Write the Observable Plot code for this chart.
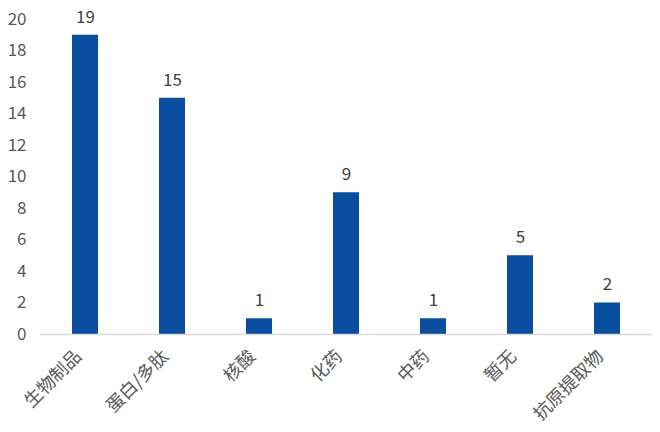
<!DOCTYPE html>
<html><head><meta charset="utf-8">
<script src="https://cdn.jsdelivr.net/npm/d3@7"></script>
<script src="https://cdn.jsdelivr.net/npm/@observablehq/plot@0.6"></script>
<style>
body{margin:0;background:#fff;}
svg{font-family:"Noto Sans CJK SC","Noto Sans",sans-serif;}
</style>
</head><body>
<div id="chart"></div>
<script>
const categories = ["生物制品","蛋白/多肽","核酸","化药","中药","暂无","抗原提取物"];
const values = [19,15,1,9,1,5,2];
const yTicks = [0,2,4,6,8,10,12,14,16,18,20];

const data = categories.map((c,i)=>({category:c, value:values[i]}));

const chart = Plot.plot({
  width:660, height:432,
  marginLeft:40, marginRight:8, marginTop:19, marginBottom:98,
  style:{fontSize:"17px", color:"#595959", background:"#fff", fontFamily:"'Noto Sans CJK SC','Noto Sans',sans-serif"},
  x:{domain:categories, paddingInner:0.7, paddingOuter:0.35, label:null},
  y:{domain:[0,20], label:null},
  marks:[
    Plot.axisY({ticks:yTicks, tickSize:0, tickPadding:14, label:null, fill:"#595959", fontSize:17}),
    Plot.axisX({tickSize:0, tickRotate:-45, tickPadding:19, dx:-7, label:null, fill:"#595959", fontSize:18}),
    Plot.barY(data,{x:"category", y:"value", fill:"#0a4f9f"}),
    Plot.ruleY([0],{stroke:"#d9d9d9", strokeWidth:1.5}),
    Plot.text(data,{x:"category", y:"value", text:d=>String(d.value), dy:-18, fill:"#404040", fontSize:17})
  ]
});
document.getElementById("chart").appendChild(chart);
</script>
</body></html>
